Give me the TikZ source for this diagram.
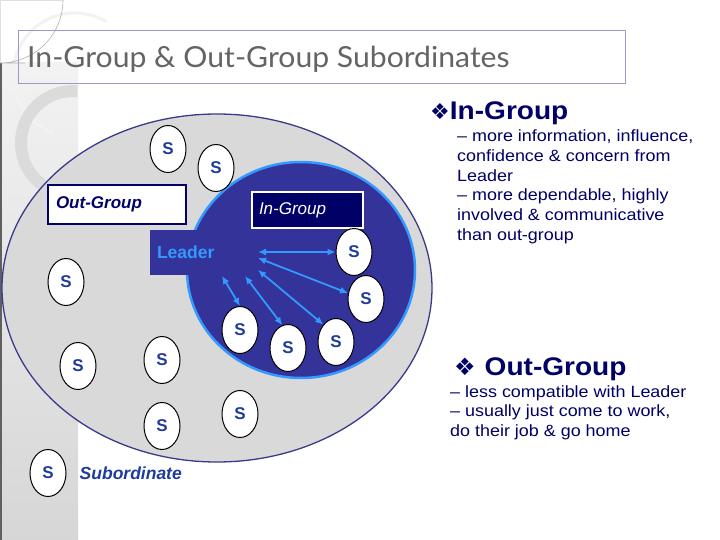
\documentclass[tikz,border=0pt]{standalone}
\usepackage{fontspec}
\setmainfont{Liberation Sans}
\newfontfamily\titlefont[FakeStretch=1.04]{Lato}
\newfontfamily\bodyfont[FakeStretch=1.1]{Liberation Sans}
\newfontfamily\headfont[FakeStretch=1.1]{Liberation Sans}
\newfontfamily\symfont{DejaVu Sans}
\usetikzlibrary{arrows.meta, positioning, shapes.geometric}
\definecolor{lgnavy}{HTML}{000066}
\definecolor{lgblue}{HTML}{333399}
\definecolor{lgsky}{HTML}{3399FF}
\definecolor{lgsub}{HTML}{1F3C9C}
\definecolor{lggray}{HTML}{D9D9D9}
\definecolor{lgrim}{HTML}{3A3A8A}
\definecolor{lgtitle}{HTML}{646464}

\begin{document}
\begin{tikzpicture}[x=1pt, y=-1pt,
    sub/.style={ellipse, draw=black, line width=1pt, fill=white,
                minimum width=36pt, minimum height=47pt, inner sep=0pt,
                text=lgsub, font=\fontsize{17}{18}\selectfont\bfseries},
    grpbox/.style={rectangle, inner ysep=0pt, align=left,
                   font=\fontsize{17}{20}\selectfont},
    dblarrow/.style={{Latex[length=8pt,width=7pt]}-{Latex[length=8pt,width=7pt]},
                     lgsky, line width=1.8pt},
    head/.style={anchor=base west, inner sep=0pt, text=lgnavy,
                 font=\fontsize{25.5}{28}\headfont\bfseries},
    body/.style={anchor=north west, inner sep=0pt, text=lgnavy, align=left,
                 font=\fontsize{16.3}{19.8}\bodyfont},
  ]
  \useasboundingbox (0,0) rectangle (720,540);
  \fill[white] (0,0) rectangle (720,540);

  \shade[top color=gray!10, bottom color=gray!32] (0,63) rectangle (78,540);
  \draw[gray!75!black, line width=2pt] (1,63) -- (1,540);
  \draw[gray!25, line width=1pt] (0.5,0) -- (0.5,63) (0,0.5) -- (63,0.5);
  \draw[gray!10, line width=3pt] (75,75) ++(-60:62) arc[start angle=-60, end angle=-250, radius=62];
  \draw[gray!28, line width=12pt] (73,143) ++(-85:52) arc[start angle=-85, end angle=-285, radius=52];
  \draw[gray!60, line width=0.6pt] (63,0) arc[start angle=0, end angle=90, radius=63] -- (25,63);

  \draw[lgblue!50, line width=0.8pt] (18,30) rectangle (625,83);
  \node[anchor=base west, inner sep=0pt, text=lgtitle, font=\fontsize{29}{34}\titlefont]
    (title) at (27,68) {In-Group \& Out-Group Subordinates};

  \draw[lgrim, line width=1.3pt, fill=lggray] (217,288) ellipse [x radius=215, y radius=174];
  \draw[lgsky, line width=2.5pt, fill=lgblue] (301,270) ellipse [x radius=114, y radius=108];

  \node[grpbox, fill=lgblue, text=lgsky, minimum width=85pt, minimum height=45pt,
        text width=71pt, inner xsep=7pt, font=\fontsize{17.5}{20}\selectfont\bfseries]
    (leader) at (192.5,252.5) {Leader};
  \node[grpbox, draw=lgnavy, line width=2pt, fill=white, text=lgnavy,
        minimum height=39pt, text width=122pt, inner xsep=8pt,
        font=\fontsize{17}{20}\selectfont\bfseries\itshape]
    (outgrp) at (117,204.5) {Out-Group};
  \node[grpbox, draw=white, line width=1.2pt, fill=lgnavy, text=white,
        minimum height=36pt, text width=97pt, inner xsep=7pt,
        font=\fontsize{17}{20}\selectfont\itshape]
    (ingrp) at (307.5,210) {In-Group};

  \node[sub] (s1) at (168,149) {S};
  \node[sub] (s2) at (216,168) {S};
  \node[sub] (s3) at (66,282) {S};
  \node[sub] (s4) at (354,252) {S};
  \node[sub] (s5) at (366,299) {S};
  \node[sub] (s6) at (240,330) {S};
  \node[sub] (s7) at (288,348) {S};
  \node[sub] (s8) at (336,342) {S};
  \node[sub] (s9) at (78,366) {S};
  \node[sub] (s10) at (162,360) {S};
  \node[sub] (s11) at (162,426) {S};
  \node[sub] (s12) at (240,414) {S};
  \node[sub] (s0) at (48,473) {S};
  \node[right=13pt of s0, inner sep=0pt, text=lgsub,
        font=\fontsize{17.5}{20}\selectfont\bfseries\itshape] (sublbl) {Subordinate};

  \coordinate (l1) at (258,252);
  \coordinate (l2) at (258,258);
  \coordinate (l3) at (258,270);
  \coordinate (l4) at (245,276);
  \coordinate (l5) at (222,276);
  \draw[dblarrow] (l1) -- (s4.180);
  \draw[dblarrow] (l2) -- (s5.162);
  \draw[dblarrow] (l3) -- (s8.126);
  \draw[dblarrow] (l4) -- (s7.104);
  \draw[dblarrow] (l5) -- (s6.north);

  \node[head] (inhead) at (430,120) {{\fontsize{22}{24}\symfont ❖}In-Group};
  \node[body] (inbody) at (457,129.5)
    {– more information, influence,\\confidence \& concern from\\Leader\\– more dependable, highly\\involved \& communicative\\than out-group};
  \node[head] (outhead) at (454,375) {{\fontsize{24}{26}\symfont ❖}\hspace{9pt}Out-Group};
  \node[body] (outbody) at (450,385)
    {– less compatible with Leader\\– usually just come to work,\\do their job \& go home};
\end{tikzpicture}
\end{document}
